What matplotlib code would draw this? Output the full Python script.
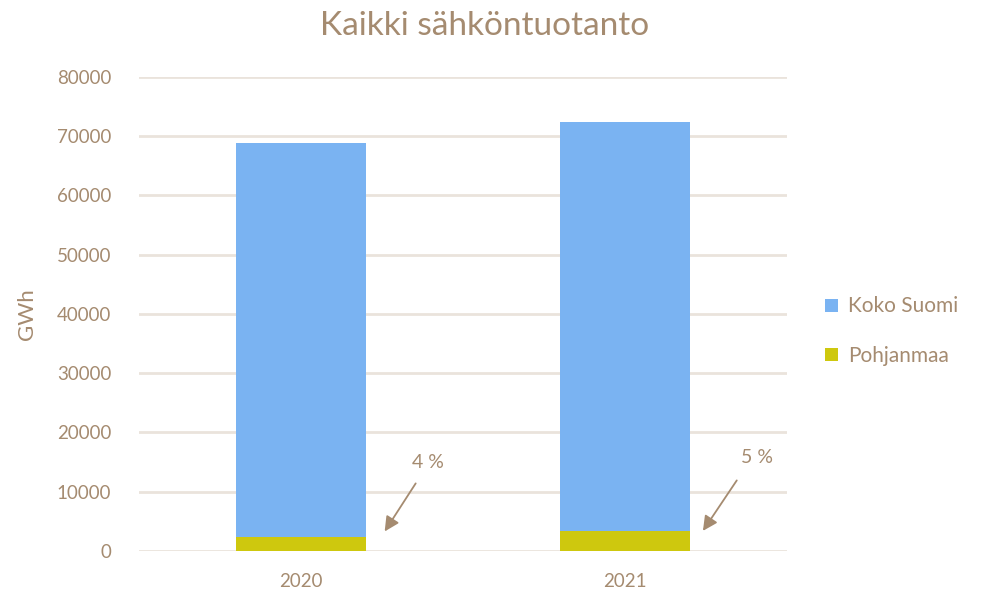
import matplotlib.pyplot as plt

# Data
years = ["2020", "2021"]
koko_suomi = [68900, 72400]
pohjanmaa = [2400, 3300]
shares = ["4 %", "5 %"]

blue = "#7AB3F2"
yellow = "#CEC80E"
brown = "#A58B70"
grid_col = "#EAE3DC"

plt.rcParams["font.family"] = ["Lato", "DejaVu Sans"]

fig = plt.figure(figsize=(9.94, 5.95), dpi=100)
ax = fig.add_axes([0.14, 0.074, 0.652, 0.7966])

x = range(len(years))
ax.bar(x, koko_suomi, width=0.4, color=blue, label="Koko Suomi", zorder=2)
ax.bar(x, pohjanmaa, width=0.4, color=yellow, label="Pohjanmaa", zorder=3)

ax.set_xlim(-0.5, 1.5)
ax.set_ylim(0, 80000)
ax.set_yticks(range(0, 80001, 10000))
ax.set_xticks(list(x))
ax.set_xticklabels(years)
ax.yaxis.grid(True, color=grid_col, linewidth=2, zorder=0)
ax.set_axisbelow(True)
for s in ax.spines.values():
    s.set_visible(False)
ax.tick_params(axis="both", length=0, colors=brown, labelsize=13.5)
ax.tick_params(axis="y", pad=20)
ax.tick_params(axis="x", pad=16)
ax.set_ylabel("GWh", color=brown, fontsize=16, labelpad=14)

fig.text(0.487, 0.957, "Kaikki sähköntuotanto", ha="center", va="center",
         color=brown, fontsize=24)

# Annotations with arrows
ann_text_pos = [(0.39, 15000), (1.406, 15700)]
ann_start = [(0.358, 11800), (1.349, 12300)]
ann_end = [(0.253, 2900), (1.235, 3000)]
for lab, tp, st, en in zip(shares, ann_text_pos, ann_start, ann_end):
    ax.text(tp[0], tp[1], lab, color=brown, fontsize=14, va="center", ha="center")
    ax.annotate("", xy=en, xytext=st,
                arrowprops=dict(arrowstyle="-|>", color=brown, lw=1.3,
                                mutation_scale=22))

leg = ax.legend(loc="center left", bbox_to_anchor=(1.03, 0.464), frameon=False,
                fontsize=15, handlelength=0.6, handleheight=0.6,
                handletextpad=0.5, labelspacing=1.4)
for t in leg.get_texts():
    t.set_color(brown)

fig.savefig("out.png", dpi=100)
